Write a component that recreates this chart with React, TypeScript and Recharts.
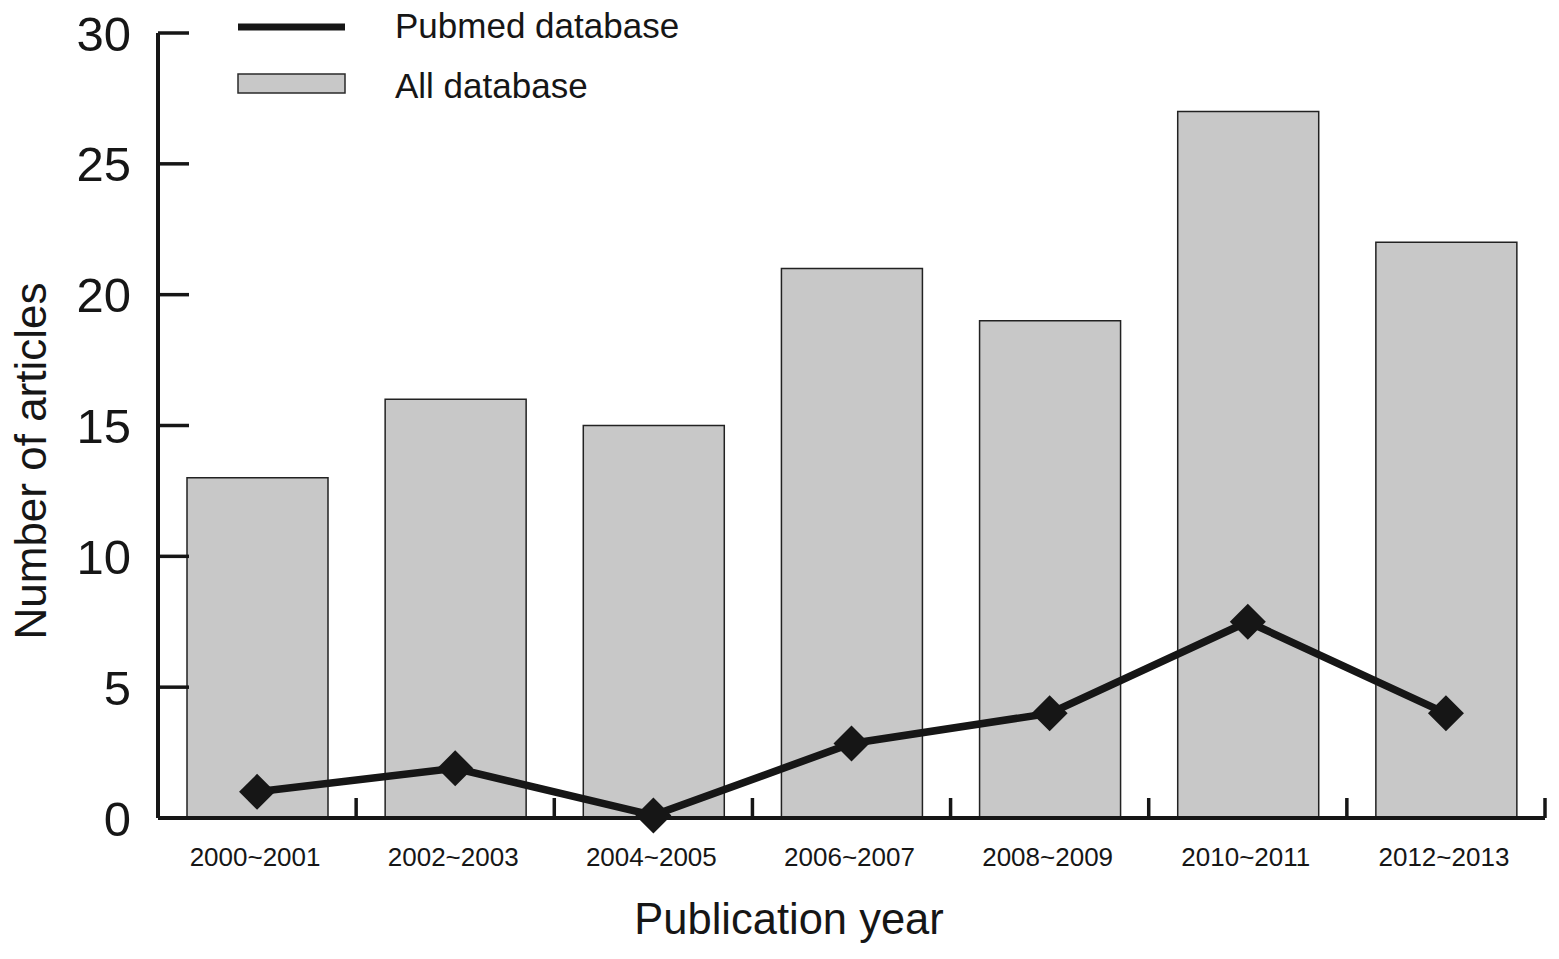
import React from 'react';
import { ComposedChart, Bar, Line, XAxis, YAxis, Legend } from 'recharts';

const periods = ['2000~2001', '2002~2003', '2004~2005', '2006~2007', '2008~2009', '2010~2011', '2012~2013'];
const allDatabase = [13, 16, 15, 21, 19, 27, 22];
const pubmedDatabase = [1, 1.9, 0.1, 2.85, 4, 7.5, 4];
const yTicks = [0, 5, 10, 15, 20, 25, 30];

const data = periods.map((p, i) => ({ period: p, all: allDatabase[i], pubmed: pubmedDatabase[i] }));

const W = 1559;
const H = 959;
const M = { top: 33, right: 14, bottom: 0, left: 0 };
const Y_W = 158;
const X_H = 141;
const BAND = (W - M.left - M.right - Y_W) / periods.length;
const FONT = '"Liberation Sans", Arial, sans-serif';
const INK = '#161616';

const YTick = (props: any) => {
  const { x, y, payload } = props;
  const ax = x + 27;
  return (
    <g>
      <line x1={ax} x2={ax + 31} y1={y} y2={y} stroke={INK} strokeWidth={3.5} />
      <text x={x} y={y} dy="0.36em" textAnchor="end" fontSize={49} fontFamily={FONT} fill={INK}>
        {payload.value}
      </text>
    </g>
  );
};

const XTick = (props: any) => {
  const { x, y, payload } = props;
  const bx = x + BAND / 2;
  return (
    <g>
      <line x1={bx} x2={bx} y1={y} y2={y - 20} stroke={INK} strokeWidth={3.5} />
      <text x={x - 2} y={y + 48} textAnchor="middle" fontSize={26} fontFamily={FONT} fill={INK}>
        {payload.value}
      </text>
    </g>
  );
};

const Diamond = (props: any) => {
  const { cx, cy } = props;
  if (cx == null || cy == null) return null;
  const r = 18;
  return (
    <polygon
      points={`${cx},${cy - r} ${cx + r},${cy} ${cx},${cy + r} ${cx - r},${cy}`}
      fill={INK}
    />
  );
};

const renderLegend = () => (
  <svg width={480} height={110} style={{ display: 'block' }}>
    <line x1={8} x2={115} y1={27} y2={27} stroke={INK} strokeWidth={7} />
    <text x={165} y={25} dy="0.36em" fontSize={35} fontFamily={FONT} fill={INK}>
      Pubmed database
    </text>
    <rect x={8} y={74} width={107} height={19} fill="#c8c8c8" stroke="#2a2a2a" strokeWidth={1.5} />
    <text x={165} y={85} dy="0.36em" fontSize={35} fontFamily={FONT} fill={INK}>
      All database
    </text>
  </svg>
);

export default function App() {
  return (
    <div style={{ position: 'absolute', left: 0, top: 0, width: W, height: H, background: '#fff' }}>
      <ComposedChart width={W} height={H} data={data} margin={M}>
        <XAxis
          dataKey="period"
          height={X_H}
          tickSize={0}
          tickMargin={0}
          tick={<XTick />}
          tickLine={false}
          interval={0}
          axisLine={{ stroke: INK, strokeWidth: 4 }}
          label={{
            content: () => (
              <text x={789} y={934} textAnchor="middle" fontSize={43.5} fontFamily={FONT} fill={INK}>
                Publication year
              </text>
            ),
          }}
        />
        <YAxis
          width={Y_W}
          domain={[0, 30]}
          ticks={yTicks}
          tickSize={0}
          tickMargin={27}
          tickLine={false}
          tick={<YTick />}
          axisLine={{ stroke: INK, strokeWidth: 4 }}
          label={{
            content: () => (
              <text
                x={30}
                y={461}
                transform="rotate(-90, 30, 461)"
                textAnchor="middle"
                dy="0.36em"
                fontSize={44}
                fontFamily={FONT}
                fill={INK}
              >
                Number of articles
              </text>
            ),
          }}
        />
        <Legend
          layout="horizontal"
          verticalAlign="middle"
          align="center"
          content={renderLegend}
          wrapperStyle={{ position: 'absolute', left: 230, top: 0, width: 480, height: 110 }}
        />
        <Bar dataKey="all" name="All database" fill="#c8c8c8" stroke="#222" strokeWidth={1.5} barSize={141} isAnimationActive={false} />
        <Line
          dataKey="pubmed"
          name="Pubmed database"
          stroke={INK}
          strokeWidth={7.5}
          dot={<Diamond />}
          activeDot={false}
          isAnimationActive={false}
        />
      </ComposedChart>
    </div>
  );
}
